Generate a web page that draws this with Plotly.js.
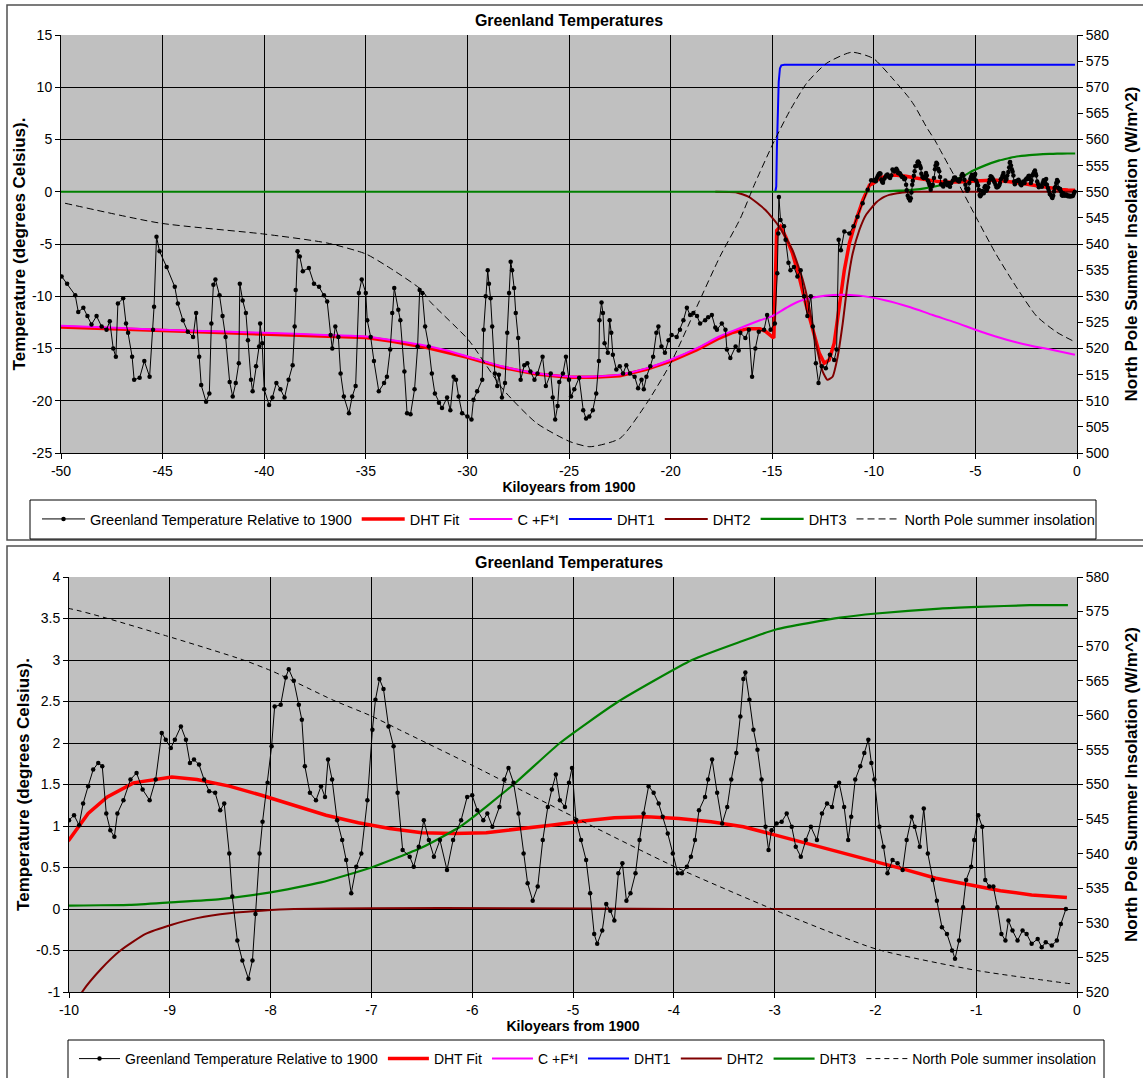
<!DOCTYPE html>
<html>
<head>
<meta charset="utf-8">
<script src="https://cdn.plot.ly/plotly-3.0.1.min.js"></script>
<style>
  html, body { margin: 0; padding: 0; background: #ffffff; }
  #chart { width: 1143px; height: 1078px; }
</style>
</head>
<body>
<div id="chart"></div>
<script>
// Greenland temperature relative to 1900 (kiloyears from 1900, degrees C)
const greenlandKyr = [
  -49.97,-49.7,-49.3,-49.15,-48.9,-48.7,-48.5,-48.25,-48.0,-47.76,-47.6,-47.43,-47.3,-47.2,-46.94,-46.8,-46.7,-46.5,-46.4,-46.13,
  -45.9,-45.64,-45.47,-45.42,-45.3,-45.15,-44.8,-44.4,-44.25,-44.0,-43.76,-43.5,-43.35,-43.2,-43.1,-42.86,-42.7,-42.6,-42.5,-42.4,
  -42.2,-42.05,-41.9,-41.7,-41.55,-41.4,-41.25,-41.2,-41.06,-40.9,-40.8,-40.65,-40.57,-40.4,-40.25,-40.2,-40.1,-40.0,-39.76,-39.6,
  -39.4,-39.2,-39.0,-38.8,-38.6,-38.5,-38.45,-38.36,-38.25,-38.1,-37.8,-37.55,-37.3,-37.06,-36.9,-36.73,-36.65,-36.5,-36.35,-36.24,
  -36.08,-35.83,-35.67,-35.5,-35.34,-35.2,-35.0,-34.93,-34.76,-34.6,-34.36,-34.1,-33.96,-33.8,-33.7,-33.6,-33.4,-33.3,-33.1,-32.97,
  -32.8,-32.6,-32.45,-32.35,-32.22,-32.08,-31.9,-31.75,-31.6,-31.4,-31.25,-31.0,-30.84,-30.68,-30.56,-30.43,-30.26,-30.0,-29.8,-29.7,
  -29.52,-29.27,-29.2,-29.1,-29.0,-28.94,-28.86,-28.78,-28.65,-28.53,-28.45,-28.3,-28.15,-28.04,-27.95,-27.87,-27.8,-27.7,-27.62,-27.5,
  -27.38,-27.2,-27.05,-26.9,-26.7,-26.55,-26.3,-26.14,-25.9,-25.8,-25.68,-25.56,-25.48,-25.3,-25.15,-25.0,-24.9,-24.74,-24.5,-24.3,
  -24.16,-24.0,-23.83,-23.66,-23.53,-23.5,-23.4,-23.33,-23.25,-23.09,-23.0,-22.92,-22.84,-22.67,-22.5,-22.34,-22.18,-22.0,-21.77,-21.6,
  -21.43,-21.32,-21.19,-21.0,-20.86,-20.7,-20.6,-20.45,-20.28,-20.1,-19.95,-19.7,-19.54,-19.37,-19.2,-19.04,-18.88,-18.7,-18.55,-18.3,
  -18.15,-17.97,-17.8,-17.72,-17.48,-17.3,-17.23,-17.06,-16.8,-16.65,-16.57,-16.32,-16.15,-15.99,-15.83,-15.66,-15.4,-15.25,-15.08,-14.87,
  -14.75,-14.7,-14.67,-14.59,-14.42,-14.34,-14.2,-14.1,-13.93,-13.76,-13.6,-13.43,-13.27,-13.1,-13.0,-12.85,-12.72,-12.56,-12.36,-12.16,
  -11.95,-11.83,-11.73,-11.62,-11.45,-11.2,-11.0,-10.8,-10.55,-10.3,-10.13,
  -10.0,-9.95,-9.9,-9.86,-9.81,-9.76,-9.71,-9.67,-9.63,-9.59,-9.55,-9.52,-9.46,-9.39,-9.33,-9.27,-9.2,-9.14,-9.08,-9.04,
  -8.99,-8.95,-8.89,-8.84,-8.8,-8.76,-8.71,-8.66,-8.61,-8.55,-8.5,-8.46,-8.41,-8.38,-8.33,-8.28,-8.22,-8.18,-8.15,-8.11,
  -8.08,-8.03,-7.99,-7.96,-7.9,-7.85,-7.82,-7.77,-7.72,-7.69,-7.66,-7.61,-7.55,-7.5,-7.46,-7.43,-7.39,-7.34,-7.29,-7.25,
  -7.2,-7.15,-7.1,-7.04,-6.99,-6.96,-6.92,-6.88,-6.83,-6.78,-6.74,-6.69,-6.62,-6.58,-6.53,-6.48,-6.43,-6.38,-6.32,-6.25,
  -6.19,-6.11,-6.05,-6.0,-5.95,-5.89,-5.85,-5.8,-5.73,-5.68,-5.64,-5.59,-5.54,-5.49,-5.45,-5.4,-5.35,-5.3,-5.25,-5.21,
  -5.17,-5.13,-5.08,-5.04,-5.01,-4.97,-4.92,-4.87,-4.83,-4.79,-4.76,-4.71,-4.67,-4.63,-4.59,-4.55,-4.51,-4.47,-4.43,-4.38,
  -4.34,-4.3,-4.25,-4.2,-4.15,-4.11,-4.06,-4.01,-3.96,-3.92,-3.87,-3.83,-3.79,-3.75,-3.69,-3.66,-3.62,-3.57,-3.52,-3.47,
  -3.43,-3.38,-3.34,-3.31,-3.29,-3.25,-3.21,-3.17,-3.13,-3.09,-3.06,-3.03,-2.98,-2.93,-2.88,-2.83,-2.79,-2.74,-2.69,-2.64,
  -2.58,-2.53,-2.48,-2.43,-2.39,-2.36,-2.31,-2.27,-2.24,-2.2,-2.15,-2.11,-2.07,-2.04,-2.01,-1.96,-1.92,-1.88,-1.83,-1.78,
  -1.73,-1.69,-1.64,-1.61,-1.56,-1.52,-1.48,-1.43,-1.39,-1.34,-1.29,-1.24,-1.21,-1.17,-1.13,-1.1,-1.05,-1.02,-0.98,-0.94,
  -0.91,-0.87,-0.83,-0.79,-0.75,-0.71,-0.68,-0.64,-0.59,-0.54,-0.5,-0.45,-0.39,-0.35,-0.31,-0.25,-0.2,-0.16,-0.11
];
const greenlandTemp = [
  -8.1,-8.8,-9.9,-11.5,-11.1,-11.9,-12.7,-11.9,-12.9,-13.2,-12.4,-15.0,-15.8,-10.7,-10.2,-12.6,-13.5,-15.8,-18.0,-17.8,
  -16.2,-17.7,-13.2,-11.0,-4.3,-5.7,-7.2,-9.1,-10.7,-12.3,-13.4,-13.9,-11.6,-15.8,-18.5,-20.1,-19.3,-12.6,-8.9,-8.4,
  -9.9,-11.9,-13.9,-18.2,-19.6,-18.3,-16.4,-8.8,-10.4,-11.6,-14.2,-18.0,-19.1,-16.7,-14.8,-12.6,-14.5,-18.9,-20.4,-19.7,
  -18.3,-18.9,-19.7,-18.0,-16.6,-12.9,-9.4,-5.7,-6.2,-7.6,-7.3,-8.8,-9.1,-9.9,-10.5,-13.7,-15.0,-12.9,-13.9,-17.4,
  -19.6,-21.2,-19.6,-18.6,-9.7,-8.4,-9.7,-12.3,-13.9,-16.2,-19.1,-18.3,-17.7,-15.1,-11.6,-9.2,-11.3,-12.3,-17.2,-21.2,
  -21.3,-18.9,-14.8,-9.4,-9.7,-12.9,-14.8,-17.4,-19.3,-20.2,-20.7,-19.7,-20.9,-17.7,-18.0,-19.6,-21.2,-21.5,-21.8,-19.9,
  -19.1,-18.0,-13.2,-10.0,-7.5,-8.8,-10.2,-12.9,-17.4,-18.6,-17.5,-19.7,-18.3,-13.5,-9.7,-6.7,-7.5,-9.2,-11.6,-14.0,
  -18.0,-16.6,-16.4,-17.2,-18.0,-17.4,-15.8,-18.6,-17.4,-19.7,-21.8,-20.5,-18.2,-17.4,-15.8,-18.0,-19.6,-18.9,-17.8,-20.9,
  -21.7,-21.5,-20.9,-19.3,-16.2,-12.3,-10.6,-11.6,-14.5,-15.4,-12.3,-13.5,-15.6,-17.0,-16.7,-17.4,-16.6,-17.4,-17.7,-18.8,
  -18.0,-18.9,-17.7,-16.7,-15.8,-13.5,-12.9,-14.8,-15.4,-14.2,-13.7,-13.9,-13.2,-12.3,-11.1,-11.8,-11.6,-11.9,-12.6,-12.3,
  -12.0,-11.8,-13.0,-13.2,-12.6,-13.2,-15.1,-15.9,-14.8,-15.2,-13.5,-14.0,-13.2,-17.7,-15.0,-13.4,-13.2,-11.8,-13.2,-12.6,
  -7.8,-4.0,-0.5,-2.7,-3.3,-4.6,-6.8,-7.5,-7.2,-8.1,-7.5,-10.0,-11.9,-10.0,-12.9,-16.4,-18.3,-16.7,-16.9,-15.6,
  -16.1,-15.1,-4.6,-5.6,-3.8,-4.0,-3.3,-2.4,-1.1,0.2,1.1,
  1.07,1.13,1.01,1.27,1.48,1.68,1.76,1.72,1.15,0.95,0.87,1.15,1.31,1.56,1.64,1.44,1.31,1.56,2.12,2.04,
  1.94,2.04,2.2,2.04,1.76,1.8,1.74,1.56,1.42,1.4,1.19,1.27,0.67,0.15,-0.38,-0.62,-0.84,-0.62,-0.06,0.67,
  1.05,1.52,1.96,2.44,2.46,2.79,2.89,2.75,2.46,2.28,1.72,1.4,1.31,1.48,1.35,1.8,1.56,1.07,0.83,0.59,
  0.19,0.51,0.67,1.31,2.16,2.52,2.77,2.65,2.2,1.96,1.4,0.71,0.63,0.51,0.75,1.07,0.83,0.63,0.83,0.47,
  0.83,1.07,1.35,1.37,1.19,1.07,1.15,0.99,1.23,1.56,1.7,1.52,1.15,0.67,0.31,0.1,0.27,0.83,1.23,1.44,
  1.62,1.31,1.23,1.52,1.7,1.07,0.83,0.59,0.19,-0.3,-0.42,-0.26,0.06,-0.02,-0.14,0.43,0.55,0.1,0.19,0.43,
  0.83,1.15,1.48,1.4,1.27,1.11,0.91,0.67,0.43,0.43,0.51,0.63,0.83,1.19,1.35,1.56,1.8,1.4,1.03,1.23,
  1.56,1.88,2.32,2.77,2.85,2.52,2.16,1.92,1.56,0.99,0.71,0.95,1.03,1.05,1.15,0.99,0.75,0.63,0.83,0.99,
  0.83,1.15,1.27,1.23,1.48,1.52,1.23,0.83,1.11,1.56,1.72,1.88,2.04,1.76,1.56,0.99,0.75,0.43,0.59,0.55,
  0.47,0.83,1.11,0.99,0.75,1.21,0.67,0.35,0.1,-0.22,-0.3,-0.5,-0.6,-0.38,0.02,0.35,0.51,0.83,1.13,0.99,
  0.35,0.27,0.27,0.02,-0.3,-0.38,-0.14,-0.26,-0.38,-0.26,-0.3,-0.42,-0.36,-0.46,-0.4,-0.44,-0.38,-0.18,0.0
];

// DHT fit
const fitKyr = [-50,-45,-40,-37,-35,-33.7,-32,-30,-28.3,-26.6,-25,-23.8,-22.5,-21.2,-20,-18.7,-17.6,-17,-16.2,-15.6,
  -15.3,-14.92,-14.84,-14.78,-14.59,-14.34,-14.0,-13.68,-13.35,-13.02,-12.69,-12.44,-12.2,-11.95,-11.7,-11.45,-11.2,-10.87,-10.54,-10.21,
  -10,-9.81,-9.62,-9.36,-8.98,-8.73,-8.41,-8.09,-7.77,-7.45,-7.13,-6.82,-6.5,-6.18,-5.86,-5.54,-5.22,-4.9,-4.59,-4.27,
  -3.95,-3.63,-3.31,-2.99,-2.68,-2.36,-2.04,-1.72,-1.4,-1.08,-0.76,-0.45,-0.1];
const fitTemp = [-12.95,-13.3,-13.6,-13.8,-13.95,-14.3,-14.9,-15.85,-16.8,-17.45,-17.75,-17.75,-17.6,-17.0,-16.2,-15.1,-14.0,-13.5,-13.1,-13.1,
  -13.4,-14.0,-9.0,-3.7,-3.3,-4.3,-5.9,-8.1,-10.7,-13.2,-15.4,-16.4,-16.1,-14.5,-11.0,-7.5,-4.9,-2.7,-0.8,0.64,
  0.83,1.15,1.35,1.52,1.59,1.56,1.48,1.37,1.25,1.13,1.04,0.97,0.92,0.91,0.92,0.96,1.01,1.06,1.1,1.11,
  1.09,1.05,0.99,0.89,0.79,0.69,0.59,0.48,0.37,0.29,0.22,0.17,0.14];

// C + F*I
const cfiKyr = [-50,-47,-45,-42,-40,-37,-35,-33.7,-32.4,-31,-30,-28.3,-26.6,-25,-23.8,-22.5,-21.2,-20,-18.7,-17.6,
  -16.6,-15.6,-15,-14.3,-13.7,-12.9,-12.0,-10.7,-9.4,-8.2,-7.1,-6,-5.0,-4,-3.0,-2.1,-1.3,-0.1];
const cfiTemp = [-12.83,-13.05,-13.2,-13.38,-13.5,-13.7,-13.85,-14.2,-14.6,-15.2,-15.76,-16.7,-17.36,-17.67,-17.67,-17.5,-16.9,-16.08,-14.97,-13.85,
  -13.06,-12.3,-11.9,-11.1,-10.5,-10.1,-9.87,-9.94,-10.4,-11.05,-11.8,-12.5,-13.2,-13.85,-14.4,-14.8,-15.1,-15.6];

// DHT components
const dht1Kyr = [-14.85,-14.8,-14.77,-14.72,-14.68,-14.62,-14.55,-14.4,-0.1];
const dht1Temp = [0,0.5,4,8,10.5,11.8,12.1,12.15,12.15];

const dht2Kyr = [-17.8,-16.8,-16.15,-15.33,-14.67,-14.0,-13.5,-13.18,-12.85,-12.52,-12.28,-12.03,-11.78,-11.53,-11.29,-11.04,-10.71,-10.38,
  -9.87,-9.68,-9.49,-9.24,-8.98,-8.73,-8.41,-8.09,-7.77,-7.0,-5.6,-4,-0.1];
const dht2Temp = [0,-0.05,-0.48,-1.75,-3.3,-5.6,-8.4,-11.0,-14.5,-17.2,-18.0,-17.7,-15.8,-12.6,-8.8,-5.9,-3.66,-2.2,
  -1.0,-0.72,-0.5,-0.3,-0.19,-0.11,-0.05,-0.02,0.0,0.01,0.01,0.0,0.0];

const dht3Kyr = [-50,-10.5,-10,-9.4,-9.0,-8.5,-8.0,-7.5,-7.0,-6.5,-6.11,-5.59,-5.13,-4.55,-3.82,-3.34,-2.98,-2.35,-1.99,-1.36,-0.98,-0.47,-0.09];
const dht3Temp = [0,0,0.04,0.05,0.08,0.12,0.2,0.32,0.5,0.74,1.0,1.5,2.0,2.5,3.0,3.22,3.37,3.51,3.56,3.62,3.64,3.66,3.66];

// North Pole summer insolation (W/m^2)
const insolKyr = [-49.8,-45.13,-40,-36.92,-35,-33.65,-32.25,-31.84,-29.94,-28.23,-26.59,-24.97,-23.97,-22.49,-21.18,-19.99,-18.71,-17.57,-16.58,-15.85,
  -14.95,-14.12,-13.3,-12.32,-11.09,-10.02,-9.06,-8.27,-7.97,-7.38,-7.0,-6.72,-5.99,-4.99,-3.99,-2.99,-1.99,-0.99,-0.07];
const insolWm2 = [547.8,544.0,541.9,540.2,538.1,535.0,531.2,529.0,521.6,512.1,505.7,502.2,501.2,502.8,509.5,517.2,528.0,537.6,544.8,551.6,
  559.3,565.6,570.8,574.6,576.7,575.5,571.6,568.0,566.3,562.2,559.9,557.9,552.7,545.3,538.1,531.8,526.2,523.1,521.2];

// Axis ticks
const topKyrTicks = [-50,-45,-40,-35,-30,-25,-20,-15,-10,-5,0];
const topTempTicks = [-25,-20,-15,-10,-5,0,5,10,15];
const topInsolTicks = [500,505,510,515,520,525,530,535,540,545,550,555,560,565,570,575,580];
const lowKyrTicks = [-10,-9,-8,-7,-6,-5,-4,-3,-2,-1,0];
const lowTempTicks = [-1,-0.5,0,0.5,1,1.5,2,2.5,3,3.5,4];
const lowInsolTicks = [520,525,530,535,540,545,550,555,560,565,570,575,580];

const W = 1143, H = 1078;
const px = v => v / W;           // pixel column -> paper x
const py = v => 1 - v / H;       // pixel row -> paper y
const FONT = 'Liberation Sans, Arial, sans-serif';

function panel(xa, ya, yr, legendId, dash) {
  const common = { xaxis: xa, yaxis: ya, legend: legendId, hoverinfo: 'skip' };
  return [
    Object.assign({ x: fitKyr, y: fitTemp, name: 'DHT Fit', mode: 'lines', legendrank: 2,
      line: { color: '#FF0000', width: 3.5 } }, common),
    Object.assign({ x: cfiKyr, y: cfiTemp, name: 'C +F*I', mode: 'lines', legendrank: 3,
      line: { color: '#FF00FF', width: 2, shape: 'spline', smoothing: 0.6 } }, common),
    Object.assign({ x: dht1Kyr, y: dht1Temp, name: 'DHT1', mode: 'lines', legendrank: 4,
      line: { color: '#0000FF', width: 2 } }, common),
    Object.assign({ x: dht2Kyr, y: dht2Temp, name: 'DHT2', mode: 'lines', legendrank: 5,
      line: { color: '#800000', width: 2, shape: 'spline', smoothing: 0.5 } }, common),
    Object.assign({ x: dht3Kyr, y: dht3Temp, name: 'DHT3', mode: 'lines', legendrank: 6,
      line: { color: '#008000', width: 2.2, shape: 'spline', smoothing: 0.5 } }, common),
    Object.assign({ x: greenlandKyr, y: greenlandTemp, name: 'Greenland Temperature Relative to 1900',
      mode: 'lines+markers', legendrank: 1,
      line: { color: '#000000', width: 1 }, marker: { color: '#000000', size: 4.5 } }, common),
    { x: insolKyr, y: insolWm2, name: 'North Pole summer insolation', mode: 'lines', legendrank: 7,
      xaxis: xa, yaxis: yr, legend: legendId, hoverinfo: 'skip',
      line: { color: '#000000', width: 1, dash: dash, shape: 'spline', smoothing: 0.6 } }
  ];
}

const data = [].concat(
  panel('x', 'y', 'y2', 'legend', '7px,4px'),
  panel('x2', 'y3', 'y4', 'legend2', '5px,4px')
);

const tickFont = { family: FONT, size: 14, color: '#000000' };
const xTitleFont = { family: FONT, size: 14, color: '#000000', weight: 'bold' };
const yTitleFont = { family: FONT, size: 17, color: '#000000', weight: 'bold' };

function xAxis(domain, anchor, range, ticks) {
  return {
    domain: domain, anchor: anchor, range: range,
    tickmode: 'array', tickvals: ticks, ticktext: ticks.map(String),
    showgrid: true, gridcolor: '#000000', gridwidth: 1, zeroline: false,
    showline: true, linecolor: '#000000', linewidth: 1,
    ticks: 'outside', ticklen: 5, tickcolor: '#000000', tickfont: tickFont,
    title: { text: 'Kiloyears from 1900', font: xTitleFont, standoff: 1 }
  };
}
function yAxis(domain, anchor, range, ticks, title) {
  return {
    domain: domain, anchor: anchor, range: range,
    tickmode: 'array', tickvals: ticks, ticktext: ticks.map(String),
    showgrid: true, gridcolor: '#000000', gridwidth: 1, zeroline: false,
    showline: true, linecolor: '#000000', linewidth: 1,
    ticks: 'outside', ticklen: 5, tickcolor: '#000000', tickfont: tickFont,
    title: { text: title, font: yTitleFont, standoff: 2 }
  };
}
function yRight(over, anchor, range, ticks) {
  return {
    overlaying: over, side: 'right', anchor: anchor, range: range,
    tickmode: 'array', tickvals: ticks, ticktext: ticks.map(String),
    showgrid: false, zeroline: false,
    showline: true, linecolor: '#000000', linewidth: 1,
    ticks: 'outside', ticklen: 5, tickcolor: '#000000', tickfont: tickFont,
    title: { text: 'North Pole Summer Insolation (W/m^2)', font: yTitleFont, standoff: 16 }
  };
}

function legendStyle(x, y, size, itemwidth) {
  return {
    x: x, y: y, orientation: 'h', xanchor: 'left', yanchor: 'middle',
    bgcolor: 'rgba(0,0,0,0)', borderwidth: 0, itemwidth: itemwidth,
    font: { family: FONT, size: size, color: '#000000' }, traceorder: 'normal'
  };
}

const layout = {
  width: W, height: H,
  margin: { l: 0, r: 0, t: 0, b: 0 },
  paper_bgcolor: '#ffffff', plot_bgcolor: '#C0C0C0',
  font: { family: FONT, size: 14, color: '#000000' },
  showlegend: true,
  title: { text: 'Greenland Temperatures', x: px(569), xref: 'paper', y: py(20), yanchor: 'middle',
    font: { family: FONT, size: 16, color: '#000000', weight: 'bold' } },
  xaxis: xAxis([px(61), px(1077)], 'y', [-50, 0], topKyrTicks),
  yaxis: yAxis([py(453), py(35)], 'x', [-25, 15], topTempTicks, 'Temperature (degrees Celsius).'),
  yaxis2: yRight('y', 'x', [500, 580], topInsolTicks),
  xaxis2: xAxis([px(69), px(1077)], 'y3', [-10, 0], lowKyrTicks),
  yaxis3: yAxis([py(992), py(577)], 'x2', [-1, 4], lowTempTicks, 'Temperature (degrees Celsius).'),
  yaxis4: yRight('y3', 'x2', [520, 580], lowInsolTicks),
  legend: legendStyle(px(37), py(519), 14.5, 43),
  legend2: legendStyle(px(74), py(1059), 14, 41),
  annotations: [
    { text: 'Greenland Temperatures', xref: 'paper', yref: 'paper', x: px(569), y: py(562),
      xanchor: 'center', yanchor: 'middle', showarrow: false,
      font: { family: FONT, size: 16, color: '#000000', weight: 'bold' } }
  ],
  shapes: [
    // chart frames
    { type: 'rect', xref: 'paper', yref: 'paper', x0: px(7), x1: px(1160), y0: py(540), y1: py(5),
      line: { color: '#505050', width: 1.5 }, fillcolor: 'rgba(0,0,0,0)' },
    { type: 'rect', xref: 'paper', yref: 'paper', x0: px(7), x1: px(1160), y0: py(1100), y1: py(546),
      line: { color: '#505050', width: 1.5 }, fillcolor: 'rgba(0,0,0,0)' },
    // legend boxes
    { type: 'rect', xref: 'paper', yref: 'paper', x0: px(30), x1: px(1096), y0: py(539), y1: py(500),
      line: { color: '#000000', width: 1 }, fillcolor: 'rgba(0,0,0,0)' },
    { type: 'rect', xref: 'paper', yref: 'paper', x0: px(68), x1: px(1104), y0: py(1090), y1: py(1040),
      line: { color: '#000000', width: 1 }, fillcolor: 'rgba(0,0,0,0)' }
  ]
};

Plotly.newPlot('chart', data, layout, { staticPlot: true, displayModeBar: false });
</script>
</body>
</html>
